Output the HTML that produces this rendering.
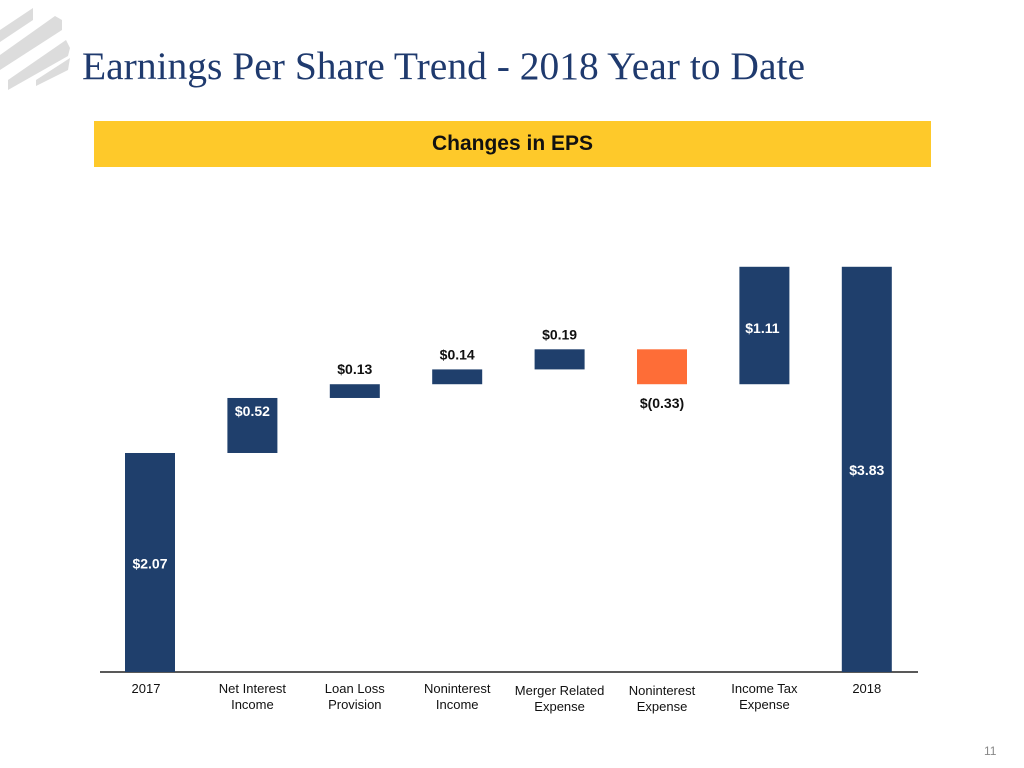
<!DOCTYPE html>
<html><head><meta charset="utf-8"><style>
body{margin:0;width:1024px;height:768px;background:#fff;position:relative;overflow:hidden;font-family:"Liberation Sans",sans-serif}
#title{position:absolute;left:82px;top:43px;font-family:"Liberation Serif",serif;font-size:39.5px;color:#1f3a6e;white-space:nowrap}
#banner{position:absolute;left:94px;top:121px;width:837px;height:46px;background:#fec92a;text-align:center;line-height:46px;font-weight:bold;font-size:21px;color:#111}
#pg{position:absolute;left:984px;top:744px;font-size:12px;color:#888}
</style></head><body>
<svg width="80" height="90" style="position:absolute;left:0;top:0">
<g fill="#dcdcdc"><polygon points="0,30 33,8 33,20 0,42"/><polygon points="0,55 55,16 62,20 62,30 0,70"/><polygon points="8,80 66,40 70,48 68,56 8,90"/><polygon points="36,80 70,58 68,70 36,86"/></g></svg>
<div id="title">Earnings Per Share Trend - 2018 Year to Date</div>
<div id="banner">Changes in EPS</div>
<svg id="chart" width="1024" height="768" style="position:absolute;left:0;top:0"></svg>
<div id="pg">11</div>
<script>
const categories=[["2017"],["Net Interest","Income"],["Loan Loss","Provision"],["Noninterest","Income"],["Merger Related","Expense"],["Noninterest","Expense"],["Income Tax","Expense"],["2018"]];
const values=[2.07,0.52,0.13,0.14,0.19,-0.33,1.11,3.83];
const isTotal=[true,false,false,false,false,false,false,true];
const valueLabels=["$2.07","$0.52","$0.13","$0.14","$0.19","$(0.33)","$1.11","$3.83"];
const NS="http://www.w3.org/2000/svg",svg=document.getElementById('chart');
const base=672,k=105.8,x0=150,step=102.4,bw=50;
const y=v=>base-v*k, x=i=>x0+i*step;
function el(t,a){const e=document.createElementNS(NS,t);for(const n in a)e.setAttribute(n,a[n]);svg.appendChild(e);return e;}
const axis=el('line',{x1:100,x2:918,y1:base,y2:base,stroke:'#222','stroke-width':1.5});


let cum=0;
values.forEach((v,i)=>{
 let lo,hi;
 if(isTotal[i]){lo=0;hi=v;cum=v;}else{lo=Math.min(cum,cum+v);hi=Math.max(cum,cum+v);cum+=v;}
 const r=el('rect',{x:x(i)-bw/2,y:y(hi),width:bw,height:y(lo)-y(hi),fill:v<0?'#fe6d37':'#1f3f6c'});
 
 
 let ty,fill='#111';
 if(isTotal[i]){ty=(y(lo)+y(hi))/2+(i==7?0:0)+6;fill='#fff';}
 else if(v<0){ty=y(lo)+24;}
 else if(i==1||i==6){ty=y(hi)+18;fill='#fff';if(i==6)ty=y(hi)+66;}
 else ty=y(hi)-10;
 if(i==7)ty=475;
 const t=el('text',{x:x(i)+(i==6?-2:0),y:ty,'text-anchor':'middle','font-size':14,'font-weight':'bold',fill:fill,'font-family':'Liberation Sans, sans-serif'});
 t.textContent=valueLabels[i];
 
 
 categories[i].forEach((s,j)=>{
  const c=el('text',{x:x(i)+(i==0?-4:0),y:693+j*16+(i==4||i==5?2:0),'text-anchor':'middle','font-size':13,fill:'#111','font-family':'Liberation Sans, sans-serif'});
  c.textContent=s;
  
  
 });
});
</script>
</body></html>
